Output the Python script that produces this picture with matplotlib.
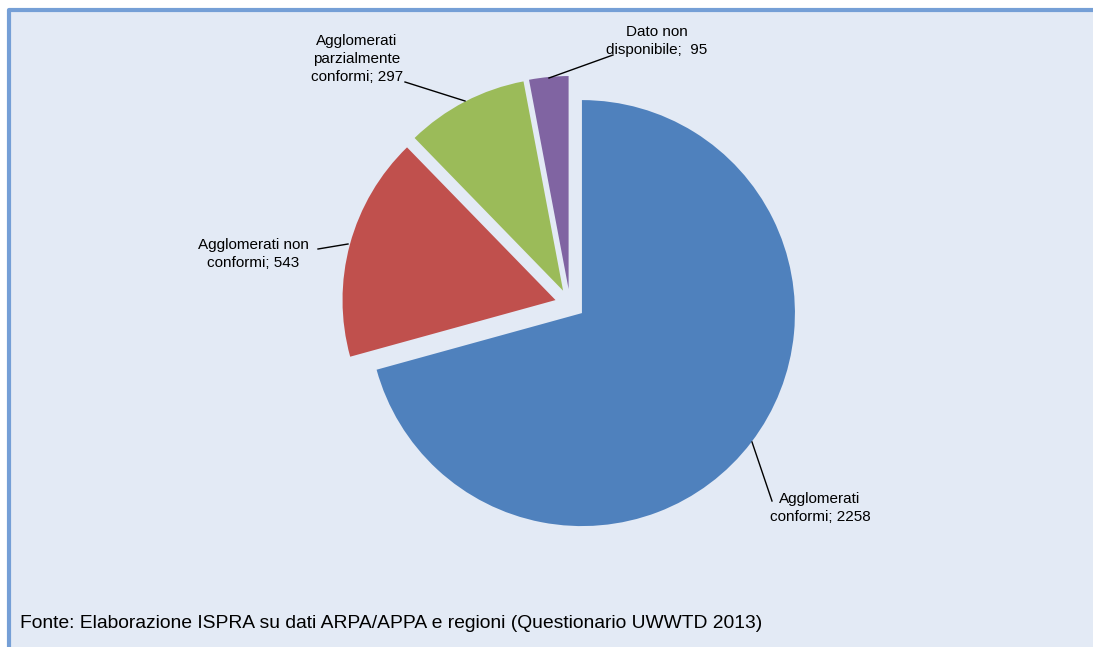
import matplotlib.pyplot as plt
from matplotlib.patches import Rectangle

plt.rcParams['font.family'] = ['Liberation Sans', 'DejaVu Sans']

# dati (Questionario UWWTD 2013)
categorie = ['Agglomerati\nconformi; 2258', 'Agglomerati non\nconformi; 543',
             'Agglomerati\nparzialmente\nconformi; 297', 'Dato non\ndisponibile;  95']
valori = [2258, 543, 297, 95]
colori = ['#4F81BD', '#C0504D', '#9BBB59', '#8064A2']
fonte = 'Fonte: Elaborazione ISPRA su dati ARPA/APPA e regioni (Questionario UWWTD 2013)'

W, H = 1093, 647
fig = plt.figure(figsize=(W / 100, H / 100), dpi=100)
ax = fig.add_axes([0, 0, 1, 1])
ax.set_xlim(0, W)
ax.set_ylim(0, H)
ax.axis('off')

# sfondo e bordo
ax.add_patch(Rectangle((8, 0), W, H - 9, facecolor='#E3EAF5', edgecolor='none', zorder=0))
ax.plot([8.5, 8.5, W], [0, H - 9.5, H - 9.5], color='#759FD6', lw=3, zorder=1,
        solid_capstyle='butt')

centro = (570, H - 304)
raggio = 213
esplodi = 15  # in matplotlib lo spostamento e' in unita' dati
ax.pie(valori, colors=colori, startangle=90, counterclock=False,
       explode=[esplodi] * len(valori), center=centro, radius=raggio,
       wedgeprops={'linewidth': 0}, frame=True)
ax.set_xlim(0, W)
ax.set_ylim(0, H)
ax.set_aspect('equal')
ax.axis('off')

# etichette con linee guida (posizioni in pixel)
pos_testo = [(820, 508, 'center'), (253, 254, 'center'), (357, 59, 'center'), (657, 41, 'center')]
linee = [((752, 442), (772, 501)), ((348, 244), (318, 249)),
         ((465, 101), (405, 82)), ((549, 78), (613, 55))]
for lab, (x, y, ha), (p0, p1) in zip(categorie, pos_testo, linee):
    ax.text(x, H - y, lab, ha=ha, va='center', fontsize=11, linespacing=1.32, zorder=5)
    ax.plot([p0[0], p1[0]], [H - p0[1], H - p1[1]], color='black', lw=1, zorder=4)

ax.text(20, H - 624, fonte, ha='left', va='center', fontsize=13.9)

fig.savefig('out.png', dpi=100)
